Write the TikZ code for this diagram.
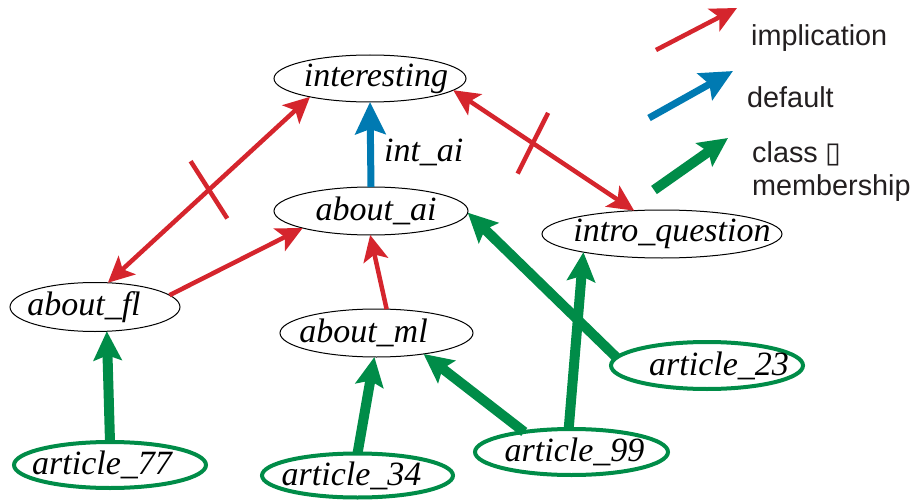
\documentclass[tikz,border=0pt]{standalone}
\usepackage{fontspec}
\setmainfont{Liberation Serif}
\newfontfamily\legendfont{Liberation Sans}
\newfontfamily\symfont{DejaVu Sans}
\usetikzlibrary{shapes.geometric,arrows.meta,calc}
\definecolor{impred}{RGB}{213,37,45}
\definecolor{defblue}{RGB}{0,122,178}
\definecolor{memgreen}{RGB}{0,140,72}
\definecolor{legtext}{RGB}{35,31,32}
\newcommand\ctrtext[2][0pt]{\makebox[0pt]{\hspace*{#1}#2\hspace*{-#1}}}
\tikzset{
  concept/.style={ellipse, draw=black, line width=1pt, inner sep=0pt, outer sep=0pt,
    font=\fontsize{34}{36}\selectfont\itshape},
  instance/.style={concept, draw=memgreen, line width=4pt},
  impl/.style={draw=impred, line width=4.5pt, -{Stealth[length=26pt,width=25pt,inset=6pt]}},
  impltwo/.style={draw=impred, line width=4.5pt,
    {Stealth[length=26pt,width=25pt,inset=6pt]}-{Stealth[length=26pt,width=25pt,inset=6pt]}},
  deflt/.style={draw=defblue, line width=7pt, -{Stealth[length=32pt,width=30pt,inset=5pt]}},
  member/.style={draw=memgreen, line width=10pt, -{Stealth[length=29pt,width=28pt,inset=5pt]}},
  crossmark/.style={draw=impred, line width=4.5pt},
  legendtext/.style={font=\legendfont\fontsize{28.8}{33}\selectfont, text=legtext,
    inner sep=0pt, anchor=west, align=left},
  lbl/.style={font=\fontsize{34}{36}\selectfont\itshape, inner sep=0pt},
}
\begin{document}
\begin{tikzpicture}[x=1pt, y=-1pt]
\useasboundingbox (0,0) rectangle (913,500);
% concept nodes
\node[concept, minimum width=192pt, minimum height=47pt] (int) at (370,78.5) {\ctrtext[6pt]{interesting}};
\node[concept, minimum width=194pt, minimum height=48pt] (ai) at (371,211) {\ctrtext[5pt]{about\_ai}};
\node[concept, minimum width=240pt, minimum height=48pt] (iq) at (662,234) {\ctrtext[10pt]{intro\_question}};
\node[concept, minimum width=170pt, minimum height=49pt] (fl) at (95,307) {\ctrtext[-11pt]{about\_fl}};
\node[concept, minimum width=193pt, minimum height=48pt] (ml) at (376.5,333) {\ctrtext[-13pt]{about\_ml}};
% instance nodes
\node[instance, minimum width=192pt, minimum height=46pt] (a77) at (110,465) {\ctrtext[-8pt]{article\_77}};
\node[instance, minimum width=191pt, minimum height=44pt] (a34) at (357.5,475.5) {\ctrtext[-6pt]{article\_34}};
\node[instance, minimum width=193pt, minimum height=46pt] (a99) at (571.5,452) {\ctrtext[3pt]{article\_99}};
\node[instance, minimum width=192pt, minimum height=47pt] (a23) at (707,365.5) {\ctrtext[12pt]{article\_23}};
% implications
\draw[impltwo] (fl.62) -- coordinate[pos=0.5] (m1) (int.197);
\draw[crossmark] ($(m1)!34pt!80:(int.197)$) -- ($(m1)!34pt!-100:(int.197)$);
\draw[impltwo] (int.352) -- coordinate[pos=0.44] (m2) (iq.140);
\draw[crossmark] ($(m2)!34pt!97:(iq.140)$) -- ($(m2)!34pt!-83:(iq.140)$);
\draw[impl] (fl.9) -- (ai.194);
\draw[impl] (ml.67) -- (ai.268);
% default
\draw[deflt] (ai.north) -- node[lbl, pos=0.41, right=10pt] (intai) {int\_ai} (int.south);
% class membership
\draw[member] (a77.north) -- (fl.296);
\draw[member] (a34.north) -- (ml.265);
\draw[member] (a99.157) -- (ml.336);
\draw[member] (a99.97) -- (iq.193);
\draw[member] (a23.175.6) -- (ai.359);
% legend
\coordinate (l1s) at (656,50);  \coordinate (l1e) at (737,8);
\coordinate (l2s) at (649,118); \coordinate (l2e) at (733,71);
\coordinate (l3s) at (654,190); \coordinate (l3e) at (728,138);
\draw[impl] (l1s) -- (l1e);
\draw[deflt] (l2s) -- (l2e);
\draw[member] (l3s) -- (l3e);
\node[legendtext] (limp) at (751,38) {implication};
\node[legendtext] (ldef) at (747,97) {default};
\node[legendtext] (lmem) at (752,171.5) {class {\symfont ▯}\\membership};
\end{tikzpicture}
\end{document}
